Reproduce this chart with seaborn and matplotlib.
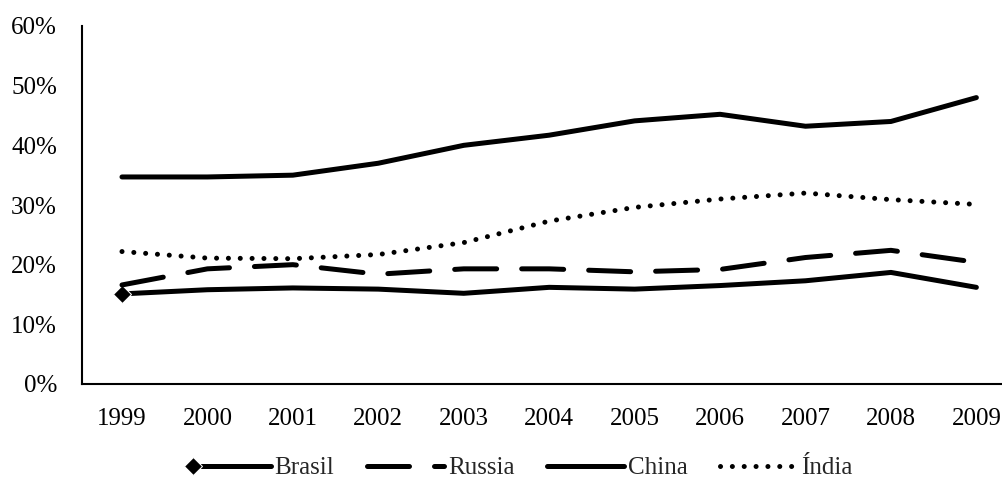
import matplotlib
matplotlib.use("Agg")
import matplotlib.pyplot as plt
import seaborn as sns
import pandas as pd
from matplotlib.ticker import PercentFormatter
from matplotlib.legend_handler import HandlerLine2D

years = [1999, 2000, 2001, 2002, 2003, 2004, 2005, 2006, 2007, 2008, 2009]
brasil = [0.151, 0.158, 0.161, 0.159, 0.152, 0.162, 0.159, 0.165, 0.173, 0.187, 0.162]
russia = [0.166, 0.193, 0.200, 0.184, 0.193, 0.193, 0.188, 0.192, 0.212, 0.224, 0.204]
china = [0.347, 0.347, 0.350, 0.370, 0.400, 0.417, 0.441, 0.452, 0.432, 0.440, 0.480]
india = [0.222, 0.211, 0.210, 0.217, 0.237, 0.273, 0.296, 0.310, 0.320, 0.309, 0.301]
series_names = ["Brasil", "Russia", "China", "Índia"]
y_ticks = [0.0, 0.1, 0.2, 0.3, 0.4, 0.5, 0.6]

sns.set_style("white")
plt.rcParams["font.family"] = ["Liberation Serif", "DejaVu Serif"]

df = pd.DataFrame({"year": years, "Brasil": brasil, "Russia": russia,
                   "China": china, "Índia": india})


class FirstPointMarkerHandler(HandlerLine2D):
    """Legend entry whose marker sits at the left end of the sample line."""

    def create_artists(self, legend, orig_handle, xdescent, ydescent,
                       width, height, fontsize, trans):
        artists = super().create_artists(legend, orig_handle, xdescent, ydescent,
                                         width, height, fontsize, trans)
        for art in artists:
            if art.get_marker() not in (None, "None", "", " "):
                art.set_markevery([0])
        return artists


fig = plt.figure(figsize=(10.02, 4.79), dpi=100)
ax = fig.add_axes([82 / 1002, 95 / 479, 920 / 1002, 358 / 479])

lw = 3.6
styles = {
    "Brasil": dict(linestyle="-", marker="D", markevery=[0], markersize=9),
    "Russia": dict(dashes=(8.4, 5.0)),
    "China": dict(linestyle="-"),
    "Índia": dict(dashes=(0.01, 2.36)),
}
for name in series_names:
    kw = styles[name]
    sns.lineplot(data=df, x="year", y=name, ax=ax, color="black", linewidth=lw,
                 label=name, solid_capstyle="round", dash_capstyle="round",
                 solid_joinstyle="round", **kw)

ax.set_xlim(1999 - 0.468, 2009 + 0.30)
ax.set_ylim(0, 0.6)
ax.set_xticks(years)
ax.set_xticklabels([str(y) for y in years])
ax.set_yticks(y_ticks)
ax.yaxis.set_major_formatter(PercentFormatter(1.0, decimals=0))
ax.set_xlabel("")
ax.set_ylabel("")

for side in ["top", "right"]:
    ax.spines[side].set_visible(False)
for side in ["left", "bottom"]:
    ax.spines[side].set_color("black")
    ax.spines[side].set_linewidth(1.5)

ax.tick_params(axis="both", length=0, labelsize=18, colors="black")
ax.tick_params(axis="y", pad=18)
ax.tick_params(axis="x", pad=17)

ax.get_legend().remove()
handles, labels = ax.get_legend_handles_labels()
fig.legend(handles, labels, loc="center", bbox_to_anchor=(523 / 1002, 11 / 479),
           ncol=4, frameon=False, fontsize=18, handlelength=3.1,
           handletextpad=0.15, columnspacing=1.3, borderpad=0,
           handler_map={handles[0]: FirstPointMarkerHandler()})

fig.savefig("out.png", dpi=100, facecolor="white")
